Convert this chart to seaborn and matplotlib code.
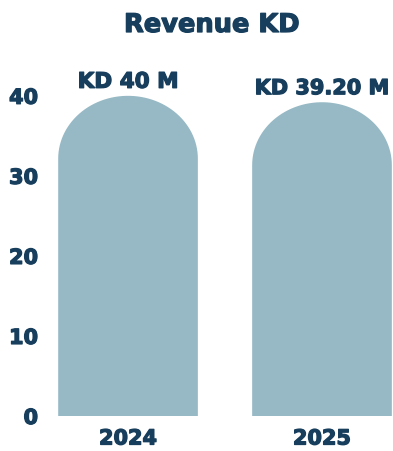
import matplotlib
matplotlib.use("Agg")
import matplotlib.pyplot as plt
from matplotlib.path import Path
from matplotlib.patches import PathPatch
import matplotlib.patheffects as pe
import numpy as np
import pandas as pd
import seaborn as sns

years = ["2024", "2025"]
revenue = [40.0, 39.2]
value_labels = ["KD 40 M", "KD 39.20 M"]
y_ticks = [0, 10, 20, 30, 40]

BAR = "#96b9c5"
INK = "#173e5c"
heavy = [pe.withStroke(linewidth=0.9, foreground=INK)]

sns.set_theme(style="white")
plt.rcParams["font.family"] = ["DejaVu Sans"]

df = pd.DataFrame({"year": years, "revenue": revenue})

fig = plt.figure(figsize=(3.93, 4.52), dpi=100)
ax = fig.add_axes([45 / 393, 35 / 452, 348 / 393, 357 / 452])

sns.barplot(data=df, x="year", y="revenue", color=BAR, saturation=1,
            width=0.72, ax=ax)

ax.set_xlim(-0.428, 1.366)
ax.set_ylim(0, 44.6)
fig.canvas.draw()

# replace the square bars with arch-topped ones
ppx = ax.transData.transform([(0, 0), (1, 1)])
px_per_x = ppx[1, 0] - ppx[0, 0]
px_per_y = ppx[1, 1] - ppx[0, 1]
for p in list(ax.patches):
    x0, w, h = p.get_x(), p.get_width(), p.get_height()
    rx = w / 2
    ry = rx * px_per_x * 0.9 / px_per_y
    cx = x0 + rx
    t = np.linspace(np.pi, 0, 60)
    arc = np.column_stack([cx + rx * np.cos(t), (h - ry) + ry * np.sin(t)])
    verts = np.vstack([[x0, 0], arc, [x0 + w, 0], [x0, 0]])
    codes = [Path.MOVETO] + [Path.LINETO] * (len(verts) - 2) + [Path.CLOSEPOLY]
    ax.add_patch(PathPatch(Path(verts, codes), facecolor=BAR, edgecolor="none"))
    p.set_visible(False)

sizes = [15.5, 15]
for i, (v, lab) in enumerate(zip(revenue, value_labels)):
    ax.text(i, v + 1.0, lab, ha="center", va="baseline", fontsize=sizes[i],
            fontweight="bold", color=INK, path_effects=heavy)

ax.set_yticks(y_ticks)
ax.set_yticklabels([str(t) for t in y_ticks])
ax.tick_params(axis="y", length=0, pad=5, labelsize=15, labelcolor=INK)
ax.tick_params(axis="x", length=0, pad=9, labelsize=15, labelcolor=INK)
for lab in ax.get_xticklabels() + ax.get_yticklabels():
    lab.set_fontweight("bold")
    lab.set_path_effects(heavy)
ax.set_xlabel("")
ax.set_ylabel("")
sns.despine(ax=ax, left=True, bottom=True)

fig.text(212 / 393, 1 - 33 / 452, "Revenue KD", ha="center", va="baseline",
         fontsize=18.5, fontweight="bold", color=INK, path_effects=heavy)

fig.savefig("out.png", dpi=100, facecolor="white")
